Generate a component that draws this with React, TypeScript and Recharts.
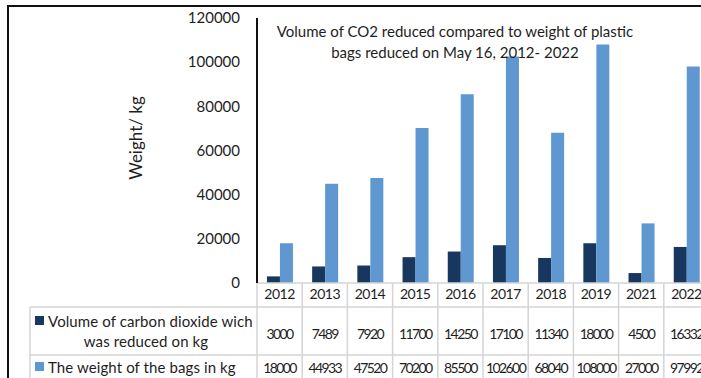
import { BarChart, Bar, XAxis, YAxis } from "recharts";

// yearly figures (the 2020 column is missing from the source sheet)
const years = ["2012", "2013", "2014", "2015", "2016", "2017", "2018", "2019", "2021", "2022"];
const co2Reduced = [3000, 7489, 7920, 11700, 14250, 17100, 11340, 18000, 4500, 16332];
const bagWeight = [18000, 44933, 47520, 70200, 85500, 102600, 68040, 108000, 27000, 97992];
const yTicks = [0, 20000, 40000, 60000, 80000, 100000, 120000];

const seriesNames = ["Volume of carbon dioxide wich", "was reduced on kg", "The weight of the bags in kg"];

const DARK = "#17375E";
const LIGHT = "#5F97D1";
const GRID = "#d4d4d4";
const INK = "#1e1e1e";
const FONT = "Lato, 'Open Sans', sans-serif";

const CHART_W = 726;
const CHART_H = 378;
const Y_AXIS_W = 257;
const MARGIN = { top: 18, right: 17, left: 0, bottom: 0 };
const TABLE_H = 95;
const band = (CHART_W - Y_AXIS_W - MARGIN.left - MARGIN.right) / years.length;

const data = years.map((year, i) => ({
    year,
    co2: co2Reduced[i],
    bags: bagWeight[i],
}));

// each x tick draws one column of the data table under the plot
const TableColumn = (props: any) => {
    const { x, y, payload } = props;
    const i = payload.index;
    const left = x - band / 2;
    return (
        <g fontFamily={FONT} fill={INK}>
            <line x1={left} x2={left} y1={y} y2={y + TABLE_H} stroke={GRID} strokeWidth={1.5} />
            <text x={x} y={y + 10} textAnchor="middle" dominantBaseline="central" fontSize={14} letterSpacing={-0.5}>
                {payload.value}
            </text>
            <text x={x} y={y + 50} textAnchor="middle" dominantBaseline="central" fontSize={14} letterSpacing={-1.6}>
                {co2Reduced[i]}
            </text>
            <text x={x} y={y + 84} textAnchor="middle" dominantBaseline="central" fontSize={14} letterSpacing={-1.6}>
                {bagWeight[i]}
            </text>
        </g>
    );
};

const App = () => {
    return (
        <div style={{ position: "absolute", left: 0, top: 0, width: 701, height: 378, overflow: "hidden", background: "#fff" }}>
            <div style={{ position: "absolute", left: 0, top: 0 }}>
                <BarChart width={CHART_W} height={CHART_H} data={data} margin={MARGIN} barCategoryGap="22%" barGap={0}>
                    <XAxis
                        dataKey="year"
                        height={TABLE_H}
                        interval={0}
                        tickSize={0}
                        tickMargin={0}
                        tickLine={false}
                        axisLine={{ stroke: GRID, strokeWidth: 1.5 }}
                        tick={<TableColumn />}
                    />
                    <YAxis
                        width={Y_AXIS_W}
                        domain={[0, 120000]}
                        ticks={yTicks}
                        interval={0}
                        tickSize={0}
                        tickMargin={17}
                        tickLine={false}
                        axisLine={{ stroke: "#111", strokeWidth: 2 }}
                        tick={{ fill: INK, fontSize: 15, fontFamily: FONT }}
                    />
                    <Bar dataKey="co2" fill={DARK} isAnimationActive={false} />
                    <Bar dataKey="bags" fill={LIGHT} isAnimationActive={false} />
                </BarChart>
            </div>

            {/* axis title and the row headers of the data table */}
            <svg width={701} height={378} style={{ position: "absolute", left: 0, top: 0, pointerEvents: "none" }} fontFamily={FONT}>
                <text x={135} y={138} transform="rotate(-90 135 138)" textAnchor="middle" dominantBaseline="central" fontSize={17} fill={INK}>
                    Weight/ kg
                </text>
                <line x1={30} x2={701} y1={307} y2={307} stroke={GRID} strokeWidth={1.5} />
                <line x1={30} x2={701} y1={355} y2={355} stroke={GRID} strokeWidth={1.5} />
                <line x1={30} x2={30} y1={307} y2={378} stroke={GRID} strokeWidth={1.5} />
                <rect x={35} y={316} width={9} height={9} fill={DARK} />
                <text x={48} y={321} dominantBaseline="central" fontSize={15} fill={INK} letterSpacing={0.1}>
                    {seriesNames[0]}
                </text>
                <text x={146} y={341} textAnchor="middle" dominantBaseline="central" fontSize={15} fill={INK} letterSpacing={0.1}>
                    {seriesNames[1]}
                </text>
                <rect x={35} y={362} width={9} height={9} fill={LIGHT} />
                <text x={48} y={367} dominantBaseline="central" fontSize={15} fill={INK} letterSpacing={0.1}>
                    {seriesNames[2]}
                </text>
            </svg>

            {/* chart title sits over the bars */}
            <div
                style={{
                    position: "absolute",
                    left: 255,
                    width: 400,
                    top: 21,
                    textAlign: "center",
                    fontFamily: FONT,
                    fontSize: 15,
                    lineHeight: "21px",
                    color: INK,
                }}
            >
                Volume of CO2 reduced compared to weight of plastic
                <br />
                bags reduced on May 16, 2012- 2022
            </div>

            {/* outer frame */}
            <div style={{ position: "absolute", left: 7, top: 5, width: 694, height: 2, background: "#111", zIndex: 5 }} />
            <div style={{ position: "absolute", left: 7, top: 5, width: 2, height: 373, background: "#111", zIndex: 5 }} />
        </div>
    );
};

export default App;
